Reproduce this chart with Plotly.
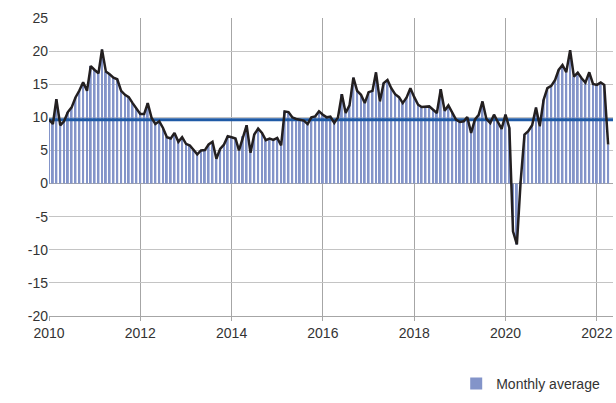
import pandas as pd
import plotly.graph_objects as go

# Monthly values (Jan 2010 - Apr 2022)
values_2010 = [9.65, 9.0, 12.75, 8.8, 9.4, 10.8, 11.5, 13.0, 14.05, 15.3, 14.0, 17.75]
values_2011 = [17.15, 16.65, 20.25, 16.9, 16.5, 16.0, 15.75, 14.0, 13.4, 13.05, 12.15, 11.3]
values_2012 = [10.5, 10.5, 12.15, 9.9, 9.0, 9.4, 8.4, 7.0, 6.8, 7.65, 6.3, 7.0]
values_2013 = [6.0, 5.75, 5.15, 4.4, 5.0, 5.05, 5.9, 6.3, 3.75, 5.25, 5.9, 7.15]
values_2014 = [7.0, 6.8, 5.0, 7.15, 8.8, 4.65, 7.4, 8.3, 7.65, 6.55, 6.8, 6.6]
values_2015 = [6.9, 5.75, 10.9, 10.8, 10.0, 9.75, 9.65, 9.5, 9.0, 10.0, 10.15, 10.9]
values_2016 = [10.4, 10.0, 10.1, 9.15, 10.0, 13.5, 10.65, 11.8, 16.0, 14.0, 13.4, 12.15]
values_2017 = [13.8, 14.0, 16.8, 12.4, 15.15, 15.65, 14.4, 13.5, 13.05, 12.15, 13.0, 14.4]
values_2018 = [13.05, 11.9, 11.55, 11.6, 11.65, 11.15, 10.65, 14.25, 11.0, 11.8, 10.75, 9.65]
values_2019 = [9.3, 9.4, 10.05, 7.65, 9.65, 10.4, 12.4, 9.75, 9.15, 10.4, 9.3, 8.25]
values_2020 = [10.4, 8.4, -7.2, -9.2, 0.3, 7.4, 7.9, 8.8, 11.5, 8.65, 12.65, 14.4]
values_2021 = [14.75, 15.65, 17.15, 17.9, 16.8, 20.15, 16.15, 16.75, 15.9, 15.25, 16.8, 15.05]
values_2022 = [14.9, 15.25, 14.9, 5.9]

values = (values_2010 + values_2011 + values_2012 + values_2013 + values_2014
          + values_2015 + values_2016 + values_2017 + values_2018 + values_2019
          + values_2020 + values_2021 + values_2022)
months = pd.date_range("2010-01-01", periods=len(values), freq="MS")

average_level = 9.65
x_start, x_end = "2010-01-01", "2022-05-10"

# Y tick labels (plain hyphen minus, as in the reference)
y_ticks = [-20, -15, -10, -5, 0, 5, 10, 15, 20, 25]
y_tick_labels = ["-20", "-15", "-10", "-5", "0", "5", "10", "15", "20", "25"]

fig = go.Figure()

# Bars: monthly values
fig.add_trace(go.Bar(
    x=months,
    y=values,
    name="Monthly average",
    marker_color="#8394C9",
    marker_line_width=0,
))

# Average level (blue horizontal line)
fig.add_trace(go.Scatter(
    x=[x_start, x_end],
    y=[average_level, average_level],
    mode="lines",
    line={"color": "#1F5AA6", "width": 3},
    showlegend=False,
))

# Monthly line (black)
fig.add_trace(go.Scatter(
    x=months,
    y=values,
    mode="lines",
    line={"color": "#231F20", "width": 2.5},
    showlegend=False,
))

font = {"family": "Liberation Sans, Arial, sans-serif", "size": 14, "color": "#333333"}

fig.update_layout(
    width=616,
    height=403,
    margin={"l": 49, "r": 3, "t": 18, "b": 85},
    plot_bgcolor="white",
    paper_bgcolor="white",
    bargap=0.45,
    font=font,
    legend={
        "x": 0.722,
        "xanchor": "left",
        "y": -0.228,
        "yanchor": "middle",
        "font": font,
        "bgcolor": "rgba(0,0,0,0)",
    },
)

fig.update_xaxes(
    type="date",
    range=[x_start, x_end],
    tick0="2010-01-01",
    dtick="M24",
    tickformat="%Y",
    automargin=False,
    showgrid=True,
    gridcolor="#A6A6A6",
    gridwidth=1,
    showline=True,
    linecolor="#A6A6A6",
    ticks="outside",
    ticklen=4,
    tickcolor="#A6A6A6",
    tickfont=font,
)

fig.update_yaxes(
    range=[-20, 25],
    tickvals=y_ticks,
    ticktext=y_tick_labels,
    automargin=False,
    showgrid=True,
    gridcolor="#C4C4C4",
    gridwidth=1,
    zeroline=True,
    zerolinecolor="#A6A6A6",
    zerolinewidth=1,
    tickfont=font,
)

# drop the default page margin so the figure sits at the window's top-left
fig.write_html(
    "out.html",
    config={"displayModeBar": False},
    post_script="document.body.style.margin = '0';",
)
